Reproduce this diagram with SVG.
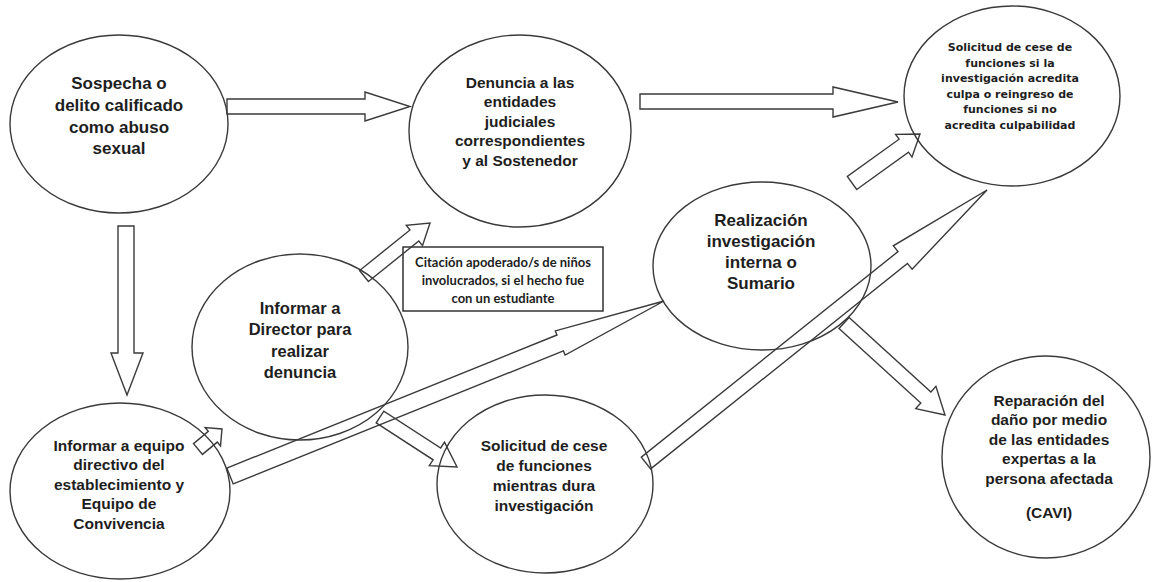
<svg xmlns="http://www.w3.org/2000/svg" width="1153" height="582" viewBox="0 0 1153 582">
<style>
.node{fill:#fff;stroke:#3a3a3a;stroke-width:1.4}
.t{font-family:"Liberation Sans",Arial,sans-serif;font-weight:bold;fill:#1e1e1e;text-anchor:middle}
.s{font-family:"DejaVu Sans",Verdana,sans-serif;font-weight:bold;fill:#1e1e1e;text-anchor:middle;font-size:11px}
.b{font-family:Lato,"Open Sans",sans-serif;font-weight:bold;fill:#1e1e1e;text-anchor:middle;font-size:13px}
.arr{fill:none;stroke:#3a3a3a;stroke-width:1.4;stroke-linejoin:miter}
</style>
<rect width="1153" height="582" fill="#fff"/>
<g id="n1">
<ellipse class="node" cx="119" cy="124" rx="109" ry="89"/>
<text class="t" font-size="17" x="119" y="89">Sospecha o</text>
<text class="t" font-size="17" x="119" y="111">delito calificado</text>
<text class="t" font-size="17" x="119" y="133">como abuso</text>
<text class="t" font-size="17" x="119" y="154">sexual</text>
</g>
<g id="n2">
<ellipse class="node" cx="520" cy="131" rx="111" ry="96"/>
<text class="t" font-size="15.5" x="520" y="87.5">Denuncia a las</text>
<text class="t" font-size="15.5" x="520" y="107">entidades</text>
<text class="t" font-size="15.5" x="520" y="126.5">judiciales</text>
<text class="t" font-size="15.5" x="520" y="146">correspondientes</text>
<text class="t" font-size="15.5" x="520" y="165.5">y al Sostenedor</text>
</g>
<g id="n3">
<ellipse class="node" cx="300" cy="347" rx="108" ry="93"/>
<text class="t" font-size="16.5" x="300" y="314">Informar a</text>
<text class="t" font-size="16.5" x="300" y="335">Director para</text>
<text class="t" font-size="16.5" x="300" y="357">realizar</text>
<text class="t" font-size="16.5" x="300" y="378">denuncia</text>
</g>
<g id="n4">
<ellipse class="node" cx="120" cy="491" rx="110" ry="88"/>
<text class="t" font-size="15.5" x="119" y="450.5">Informar a equipo</text>
<text class="t" font-size="15.5" x="119" y="470">directivo del</text>
<text class="t" font-size="15.5" x="119" y="489.5">establecimiento y</text>
<text class="t" font-size="15.5" x="119" y="509">Equipo de</text>
<text class="t" font-size="15.5" x="119" y="528.5">Convivencia</text>
</g>
<g id="n5">
<ellipse class="node" cx="1012" cy="96" rx="108" ry="90"/>
<text class="s" x="1010" y="51">Solicitud de cese de</text>
<text class="s" x="1010" y="66.5">funciones si la</text>
<text class="s" x="1010" y="82">investigación acredita</text>
<text class="s" x="1010" y="97.5">culpa o reingreso de</text>
<text class="s" x="1010" y="113">funciones si no</text>
<text class="s" x="1010" y="128.5">acredita culpabilidad</text>
</g>
<g id="n6">
<ellipse class="node" cx="762" cy="266" rx="109" ry="84"/>
<text class="t" font-size="17" x="761" y="226">Realización</text>
<text class="t" font-size="17" x="761" y="247">investigación</text>
<text class="t" font-size="17" x="761" y="268">interna o</text>
<text class="t" font-size="17" x="761" y="289">Sumario</text>
</g>
<g id="n7">
<ellipse class="node" cx="545" cy="484" rx="108" ry="89"/>
<text class="t" font-size="15.5" x="544" y="450.5">Solicitud de cese</text>
<text class="t" font-size="15.5" x="544" y="470.5">de funciones</text>
<text class="t" font-size="15.5" x="544" y="490.5">mientras dura</text>
<text class="t" font-size="15.5" x="544" y="510.5">investigación</text>
</g>
<g id="n8">
<ellipse class="node" cx="1046" cy="457" rx="104" ry="101"/>
<text class="t" font-size="15.5" x="1049" y="405.5">Reparación del</text>
<text class="t" font-size="15.5" x="1049" y="425">daño por medio</text>
<text class="t" font-size="15.5" x="1049" y="444.5">de las entidades</text>
<text class="t" font-size="15.5" x="1049" y="464">expertas a la</text>
<text class="t" font-size="15.5" x="1049" y="483.5">persona afectada</text>
<text class="t" font-size="15.5" x="1049" y="517.5">(CAVI)</text>
</g>
<g id="note">
<rect x="403" y="247" width="200" height="64" fill="#fff" stroke="#333" stroke-width="1.5"/>
<text class="b" x="503" y="266.5">Citación apoderado/s de niños</text>
<text class="b" x="503" y="284.5">involucrados, si el hecho fue</text>
<text class="b" x="503" y="302.5">con un estudiante</text>
</g>
<g id="connectors">
<polygon class="arr" points="227,99 365,99 365,92 410,106.5 365,121 365,114 227,114"/>
<polygon class="arr" points="640,94 833,94 833,87 898,102 833,117 833,109 640,109"/>
<polygon class="arr" points="118,226 134,226 134,353 143,353 127,395 111,353 118,353"/>
<polygon class="arr" points="202.5,454.4 217.3,442.1 220.5,445.9 222,429 205.1,427.5 208.3,431.3 193.5,443.6"/>
<polygon class="arr" points="233.2,483.9 563.4,350.8 565.1,355 664,301 555.3,330.9 557,335 226.8,468.1"/>
<polygon class="arr" points="650.7,468.9 907.4,263.4 912.1,269.2 987,190 893.3,245.8 898,251.6 641.3,457.1"/>
<polygon class="arr" points="376.2,422.9 433.1,459.8 429.3,465.7 457,467 444.5,442.2 440.7,448 383.8,411.1"/>
<polygon class="arr" points="368.4,281.5 418.8,241 422.5,245.6 430,223 406.3,225.4 410,230 359.6,270.5"/>
<polygon class="arr" points="856.7,189.5 908.5,152.2 912,157.1 920,134 895.6,134.4 899.1,139.2 847.3,176.5"/>
<polygon class="arr" points="839,328.5 920.8,403 915.7,408.6 945,415 935.9,386.4 930.9,392 849.1,317.5"/>
</g>
</svg>
